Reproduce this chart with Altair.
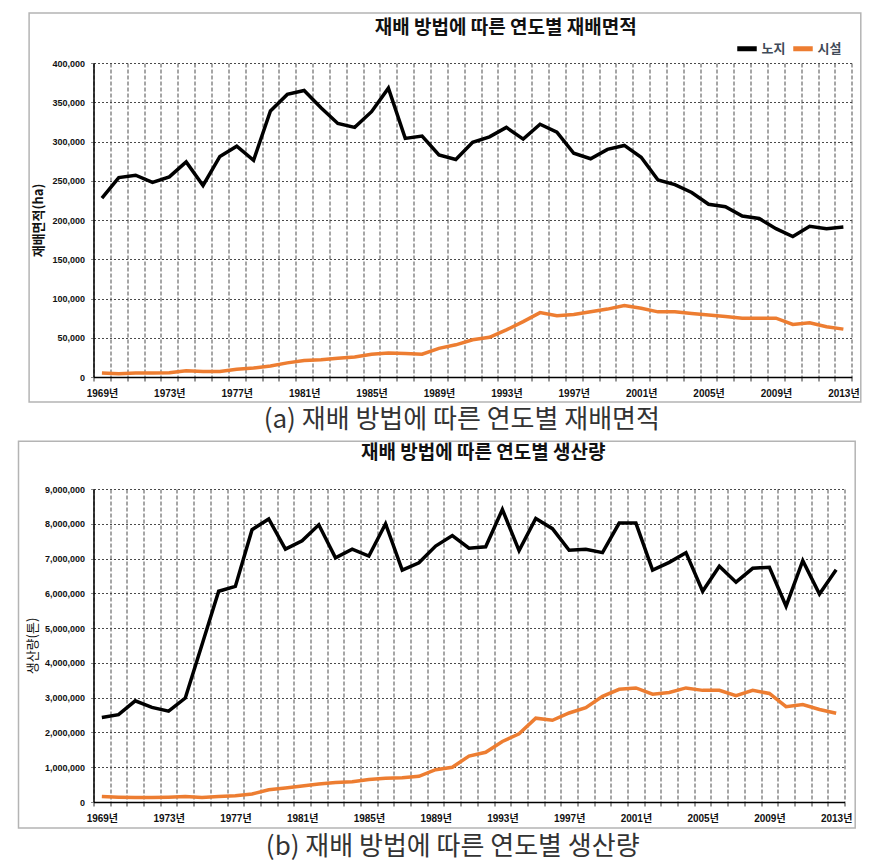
import altair as alt
import pandas as pd

years = list(range(1969, 2014))
series_names = ["노지", "시설"]
series_colors = ["#000000", "#ED7D31"]

area_open = [228000, 254000, 257000, 248000, 255000, 274000, 244000, 281000, 294000, 276000,
             339000, 360000, 365000, 343000, 323000, 318000, 338000, 368000, 304000, 307000,
             283000, 277000, 299000, 306000, 318000, 303000, 322000, 312000, 285000, 278000,
             290000, 295000, 280000, 251000, 245000, 235000, 220000, 217000, 205000, 202000,
             189000, 179000, 192000, 189000, 191000]
area_greenhouse = [5000, 4000, 5000, 5000, 5500, 8000, 7000, 7000, 10000, 11500,
                   14000, 18000, 21000, 22000, 24000, 25500, 29000, 30500, 30000, 29000,
                   36500, 41000, 47500, 50500, 60000, 70500, 82000, 78000, 79500, 83000,
                   86500, 91000, 87500, 83000, 83000, 81000, 79000, 77000, 75000, 75000,
                   75000, 67000, 69000, 64000, 61000]
prod_open = [2430000, 2510000, 2910000, 2720000, 2610000, 2990000, 4520000, 6060000, 6200000, 7830000,
             8140000, 7270000, 7510000, 7970000, 7020000, 7270000, 7070000, 8000000, 6670000, 6880000,
             7360000, 7660000, 7300000, 7340000, 8410000, 7230000, 8150000, 7860000, 7240000, 7270000,
             7170000, 8020000, 8020000, 6670000, 6890000, 7170000, 6060000, 6780000, 6320000, 6720000,
             6750000, 5630000, 6940000, 5980000, 6680000]
prod_greenhouse = [160000, 140000, 130000, 130000, 140000, 160000, 130000, 160000, 180000, 230000,
                   350000, 400000, 460000, 520000, 560000, 580000, 650000, 680000, 700000, 740000,
                   930000, 1000000, 1320000, 1430000, 1740000, 1960000, 2410000, 2350000, 2560000, 2710000,
                   3040000, 3240000, 3280000, 3100000, 3150000, 3280000, 3210000, 3210000, 3060000, 3210000,
                   3120000, 2740000, 2800000, 2660000, 2550000]

area_ticks = [0, 50000, 100000, 150000, 200000, 250000, 300000, 350000, 400000]
prod_ticks = [0, 1000000, 2000000, 3000000, 4000000, 5000000, 6000000, 7000000, 8000000, 9000000]
label_years = [1969, 1973, 1977, 1981, 1985, 1989, 1993, 1997, 2001, 2005, 2009, 2013]
boundaries = [1968.5 + i for i in range(46)]

titles = ["재배 방법에 따른 연도별 재배면적", "재배 방법에 따른 연도별 생산량"]
captions = ["(a) 재배 방법에 따른 연도별 재배면적", "(b) 재배 방법에 따른 연도별 생산량"]
y_titles = ["재배면적(ha)", "생산량(톤)"]

NUMFONT = "'Liberation Sans', 'Noto Sans CJK KR', sans-serif"
KFONT = "'Noto Sans CJK KR', sans-serif"


def panel(v_open, v_gh, yticks, title, caption, ytitle, W, H, frame, tpos, cpos, lpos, ytx, ybold):
    df = pd.DataFrame({
        "연도": years + years,
        "구분": [series_names[0]] * len(years) + [series_names[1]] * len(years),
        "값": v_open + v_gh,
    })
    xaxis = alt.Axis(
        values=boundaries + label_years,
        labelExpr="datum.value % 1 == 0 ? datum.value + '년' : ''",
        labelOverlap=False,
        labelFont=NUMFONT, labelFontSize=10, labelFontWeight="bold", labelColor="#111111",
        labelPadding=7,
        grid=True,
        gridColor="#3a3a3a", gridDash=[4, 2], gridWidth=1,
        gridOpacity={"condition": {"test": "datum.value % 1 != 0", "value": 0.9}, "value": 0},
        ticks=True, tickSize=4, tickColor="#333333",
        tickOpacity={"condition": {"test": "datum.value % 1 != 0", "value": 1}, "value": 0},
        domain=True, domainColor="#000000", domainWidth=1.5,
        title=None,
    )
    yaxis = alt.Axis(
        values=yticks, format=",.0f",
        labelFont=NUMFONT, labelFontSize=9, labelFontWeight="bold", labelColor="#111111",
        labelPadding=6,
        grid=True, gridColor="#4a4a4a", gridDash=[2, 2], gridWidth=1,
        ticks=True, tickSize=3, tickColor="#888888",
        domain=True, domainColor="#000000", domainWidth=1.5,
        title=ytitle, titleFont=KFONT, titleFontSize=13,
        titleFontWeight="bold" if ybold else "normal", titleColor="#111111",
        titleX=ytx, titleY=H / 2, titleAngle=-90, titleAlign="center", titleBaseline="middle",
    )
    lines = alt.Chart(df).mark_line(strokeWidth=3.5).encode(
        x=alt.X("연도:Q", scale=alt.Scale(domain=[1968.5, 2013.5], nice=False, zero=False), axis=xaxis),
        y=alt.Y("값:Q", scale=alt.Scale(domain=[yticks[0], yticks[-1]], nice=False), axis=yaxis),
        color=alt.Color("구분:N", scale=alt.Scale(domain=series_names, range=series_colors),
                        legend=alt.Legend(orient="none", legendX=lpos[0], legendY=lpos[1],
                                          direction="horizontal", title=None,
                                          symbolType="stroke", symbolStrokeWidth=5, symbolSize=380,
                                          labelFont=KFONT, labelFontSize=13, labelFontWeight="bold",
                                          labelColor="#404a58", labelOffset=2, columnPadding=-3,
                                          padding=0)),
        order=alt.Order("연도:Q"),
    )
    box = alt.Chart(pd.DataFrame({"f": [0]})).mark_rect(
        filled=False, stroke="#b4b4b4", strokeWidth=1.5
    ).encode(x=alt.value(frame[0]), x2=alt.value(frame[1]), y=alt.value(frame[2]), y2=alt.value(frame[3]))
    ttl = alt.Chart(pd.DataFrame({"t": [title]})).mark_text(
        font=KFONT, fontSize=19, fontWeight="bold", color="#111111", align="center", baseline="middle"
    ).encode(text="t:N", x=alt.value(tpos[0]), y=alt.value(tpos[1]))
    cap = alt.Chart(pd.DataFrame({"t": [caption]})).mark_text(
        font=KFONT, fontSize=26, fontWeight="normal", color="#333333", align="center", baseline="middle"
    ).encode(text="t:N", x=alt.value(cpos[0]), y=alt.value(cpos[1]))
    return alt.layer(box, lines, ttl, cap).properties(width=W, height=H)


top = panel(area_open, area_greenhouse, area_ticks, titles[0], captions[0], y_titles[0],
            758.3, 314, (-64.4, 767.3, -50, 339), (412.3, -35.3), (368.3, 356.7), (641, -27), -54.7, True)
bottom = panel(prod_open, prod_greenhouse, prod_ticks, titles[1], captions[1], y_titles[1],
               751, 313, (-75, 761.7, -47.7, 339), (389.7, -36), (359.2, 358), (638, -25), -61.3, False)

chart = alt.concat(top, bottom, columns=1, spacing=6, align="none", bounds="full").properties(
    padding={"left": 8.5, "top": 3, "right": 0, "bottom": 0},
    background="white",
).configure_view(stroke="transparent")

chart.save("out.html", embed_options={"renderer": "svg", "actions": False})
